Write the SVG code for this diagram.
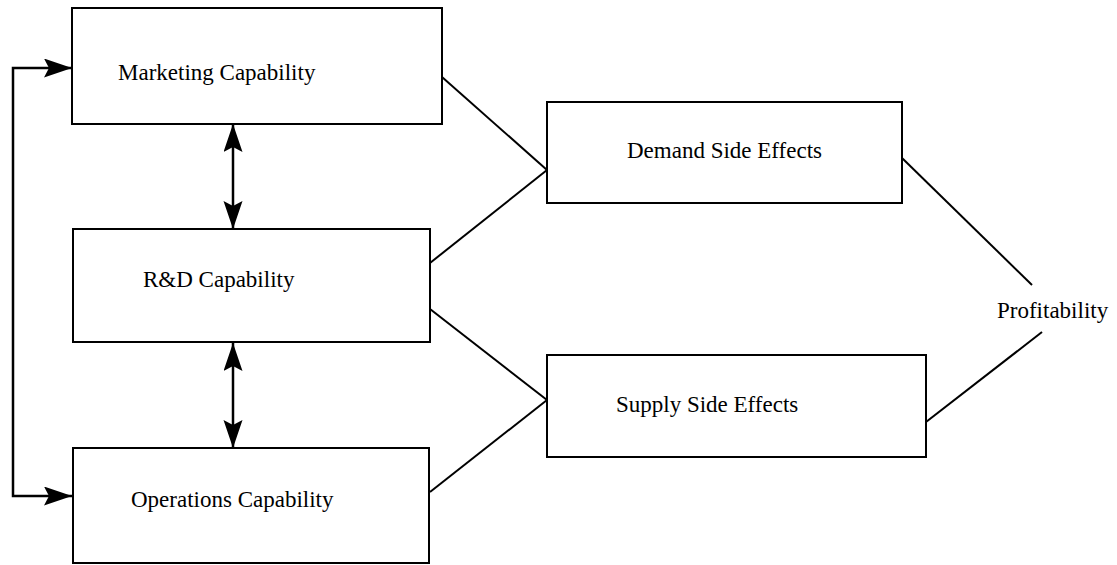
<svg xmlns="http://www.w3.org/2000/svg" width="1117" height="565" viewBox="0 0 1117 565">
<style>
.box{fill:#fff;stroke:#000;stroke-width:2}
.lbl{font-family:"Liberation Serif","Times New Roman",serif;font-size:23px;fill:#000}
.ln{fill:none;stroke:#000;stroke-width:2}
.arr{fill:none;stroke:#000;stroke-width:2.5}
</style>
<defs>
<marker id="ah" markerUnits="userSpaceOnUse" markerWidth="30" markerHeight="20" refX="28" refY="9.5" orient="auto-start-reverse" viewBox="0 0 30 20">
<path d="M0,0 L28,9.5 L0,19 L5,9.5 z" fill="#000"/>
</marker>
</defs>
<g id="connectors">
<path class="arr" d="M72,68 H13 V496 H72" marker-start="url(#ah)" marker-end="url(#ah)"/>
<line class="arr" x1="233" y1="124" x2="233" y2="229" marker-start="url(#ah)" marker-end="url(#ah)"/>
<line class="arr" x1="233" y1="343" x2="233" y2="448" marker-start="url(#ah)" marker-end="url(#ah)"/>
<line class="ln" x1="442" y1="77" x2="547" y2="170"/>
<line class="ln" x1="430" y1="263" x2="547" y2="170"/>
<line class="ln" x1="430" y1="309" x2="547" y2="400"/>
<line class="ln" x1="430" y1="492" x2="547" y2="400"/>
<line class="ln" x1="902" y1="158" x2="1032" y2="285"/>
<line class="ln" x1="926" y1="422" x2="1042" y2="332"/>
</g>
<g id="marketing">
<rect class="box" x="72" y="8" width="370" height="116"/>
<text class="lbl" x="118" y="80">Marketing Capability</text>
</g>
<g id="rd">
<rect class="box" x="73" y="229" width="357" height="113"/>
<text class="lbl" x="143" y="287">R&amp;D Capability</text>
</g>
<g id="operations">
<rect class="box" x="73" y="448" width="356" height="115"/>
<text class="lbl" x="131" y="507">Operations Capability</text>
</g>
<g id="demand">
<rect class="box" x="547" y="102" width="355" height="101"/>
<text class="lbl" x="627" y="158">Demand Side Effects</text>
</g>
<g id="supply">
<rect class="box" x="547" y="355" width="379" height="102"/>
<text class="lbl" x="616" y="412">Supply Side Effects</text>
</g>
<g id="profitability">
<text class="lbl" x="997" y="318">Profitability</text>
</g>
</svg>
